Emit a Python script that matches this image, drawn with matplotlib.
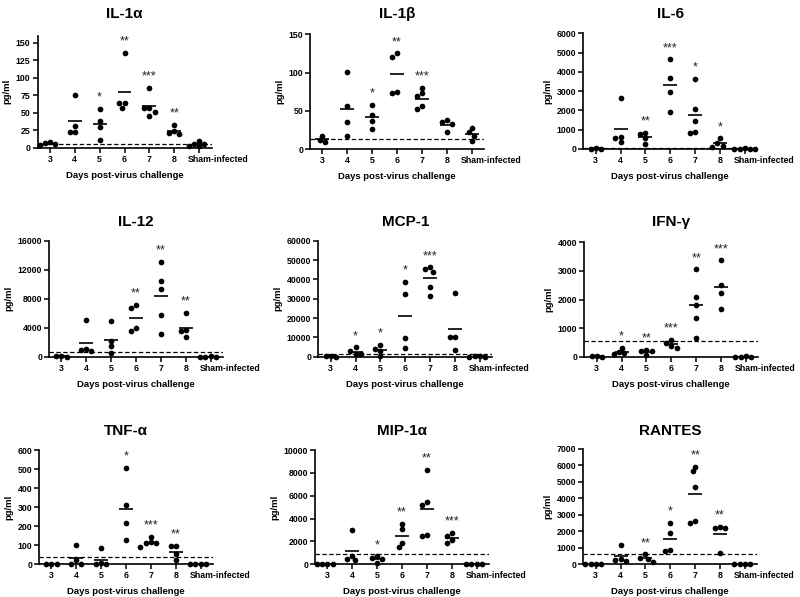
import numpy as np
import matplotlib
matplotlib.use("Agg")
import matplotlib.pyplot as plt
import matplotlib.transforms as mtransforms

plt.rcParams['font.family'] = ['Liberation Sans', 'DejaVu Sans']

categories = ["3", "4", "5", "6", "7", "8", "Sham-infected"]

titles = ["IL-1α", "IL-1β", "IL-6", "IL-12", "MCP-1", "IFN-γ", "TNF-α", "MIP-1α", "RANTES"]

il1a = [[8, 5, 7, 4], [76, 31, 22, 22], [55, 38, 29, 11], [135, 64, 64, 57],
        [86, 57, 57, 51, 45], [33, 24, 21, 20], [10, 6, 3, 5, 2]]
il1b = [[18, 10, 12], [101, 57, 35, 17], [45, 58, 37, 27], [125, 121, 74, 75],
        [73, 80, 69, 57, 52], [36, 33, 38, 22], [28, 22, 18, 11]]
il6 = [[60, 20, 10], [2620, 620, 580, 350], [850, 780, 590, 250], [4650, 3700, 2970, 1930],
       [3620, 2080, 1470, 880, 820], [550, 330, 170, 120], [10, 20, 0, 30, 5]]
il12 = [[60, 0, 30], [5000, 1050, 850, 900], [4900, 2200, 1450, 500], [7150, 6700, 4000, 3600],
        [13100, 10500, 9300, 5700, 3100], [6000, 3700, 3600, 2700], [0, 50, 20, 0]]
mcp1 = [[300, 100, 200], [3000, 4800, 1200, 1300], [6000, 4000, 3000, 300], [38500, 32600, 9500, 4300],
        [46200, 45300, 43900, 35900, 31400], [32900, 10200, 10000, 3500], [200, 100, 0, 300]]
ifng = [[20, 0, 10], [320, 150, 140, 80], [250, 200, 190, 60], [590, 480, 380, 320],
        [3050, 2100, 1800, 1370, 670], [3370, 2500, 2210, 1680], [0, 10, 0, 5]]
tnfa = [[0, 0, 0], [103, 22, 0, 0], [88, 5, 0, 0], [505, 310, 215, 130],
        [143, 115, 112, 92, 110], [95, 98, 55, 20], [0, 0, 0, 0]]
mip1a = [[60, 20, 0, 40], [2970, 750, 420, 380], [700, 520, 450, 130], [3520, 3080, 1850, 1480],
         [8250, 5430, 5230, 2580, 2500], [2750, 2480, 2150, 1880], [0, 20, 0, 10]]
rantes = [[0, 0, 0, 0], [1170, 320, 270, 230], [600, 380, 320, 140], [2520, 1920, 860, 800],
          [5930, 5650, 4700, 2600, 2520], [2280, 2220, 2200, 660], [0, 0, 0, 0]]

datasets = [il1a, il1b, il6, il12, mcp1, ifng, tnfa, mip1a, rantes]

stars = [
    ["", "", "*", "**", "***", "**", ""],
    ["", "", "*", "**", "***", "", ""],
    ["", "", "**", "***", "*", "*", ""],
    ["", "", "", "**", "**", "**", ""],
    ["", "*", "*", "*", "***", "", ""],
    ["", "*", "**", "***", "**", "***", ""],
    ["", "", "", "*", "***", "**", ""],
    ["", "", "*", "**", "**", "***", ""],
    ["", "", "**", "*", "**", "**", ""],
]

detection_limits = [6, 13, 40, 600, 1400, 560, 37, 880, 630]

ytick_max = [150, 150, 6000, 16000, 60000, 4000, 600, 10000, 7000]
ytick_step = [25, 50, 1000, 4000, 10000, 1000, 100, 2000, 1000]
ylim_top = [160, 150, 6000, 16000, 60000, 4000, 600, 10000, 7000]

# layout in pixels: (axis left, axis bottom y, axis top y, title centre y)
W, H = 800, 597
layout = [
    (37.5, 147.7, 35.7, 14), (310, 149.3, 34.3, 14), (583.3, 149.0, 33.3, 14),
    (49.0, 356.7, 240.7, 222), (318.3, 356.7, 240.7, 222), (584.3, 356.7, 242.3, 222),
    (39.0, 564.3, 450.0, 431), (315.0, 564.3, 450.0, 431), (583.3, 564.3, 449.0, 431),
]
AX_W = 174.0
XMIN, XMAX = -0.5, 6.5

fig = plt.figure(figsize=(W / 100, H / 100), dpi=100)


def swarm_offsets(vals, py_per_unit, px_per_cat, diam=5.2):
    vals = np.asarray(vals, dtype=float)
    order = np.argsort(-vals, kind="stable")
    placed = []
    offs = np.zeros(len(vals))
    cands = [0, -0.5, 0.5, -1, 1, -1.5, 1.5, -2, 2, -2.5, 2.5, -3, 3]
    for i in order:
        y = vals[i] * py_per_unit
        dx = 0.0
        for k in cands:
            dx = k * diam
            if all((dx - px) ** 2 + (y - py) ** 2 >= (diam * 0.95) ** 2 for px, py in placed):
                break
        placed.append((dx, y))
        offs[i] = dx / px_per_cat
    return offs


for idx, (data, title) in enumerate(zip(datasets, titles)):
    left, bot, top, ty = layout[idx]
    ax = fig.add_axes([left / W, 1 - bot / H, AX_W / W, (bot - top) / H])
    ax.set_xlim(XMIN, XMAX)
    ax.set_ylim(0, ylim_top[idx])
    py_per_unit = (bot - top) / ylim_top[idx]
    px_per_cat = AX_W / (XMAX - XMIN)

    for i, vals in enumerate(data):
        offs = swarm_offsets(vals, py_per_unit, px_per_cat)
        ax.plot(i + offs, vals, 'o', color='black', ms=4.1, mew=0, clip_on=False, zorder=3)
        m = np.mean(vals)
        ax.plot([i - 0.28, i + 0.28], [m, m], color='black', lw=1.2, solid_capstyle='butt', zorder=2)
        if stars[idx][i]:
            ax.annotate(stars[idx][i], (i, max(vals)), xytext=(0, 6), textcoords='offset points',
                        ha='center', va='baseline', fontsize=9, color='#222222')

    ax.axhline(detection_limits[idx], color='black', lw=0.9, ls=(0, (3.5, 2)), zorder=1)

    for s in ['top', 'right']:
        ax.spines[s].set_visible(False)
    for s in ['left', 'bottom']:
        ax.spines[s].set_linewidth(1.2)
    ax.set_yticks(np.arange(0, ytick_max[idx] + 1, ytick_step[idx]))
    ax.set_xticks(range(len(categories)))
    ax.set_xticklabels(categories)
    ax.tick_params(axis='both', direction='out', length=3.5, width=1.1, labelsize=6.3, pad=1.5)
    for lab in ax.get_yticklabels() + ax.get_xticklabels():
        lab.set_fontweight('bold')
    sham = ax.get_xticklabels()[-1]
    sham.set_horizontalalignment('left')
    sham.set_transform(sham.get_transform() + mtransforms.ScaledTranslation(-11 / 100, 0, fig.dpi_scale_trans))

    ax.set_ylabel('pg/ml', fontsize=6.8, fontweight='bold', labelpad=3)
    ax.set_xlabel('Days post-virus challenge', fontsize=6.8, fontweight='bold', labelpad=5)
    fig.text((left + AX_W / 2) / W, 1 - ty / H, title, fontsize=11, fontweight='bold',
             ha='center', va='center')

fig.savefig('out.png', dpi=100)
